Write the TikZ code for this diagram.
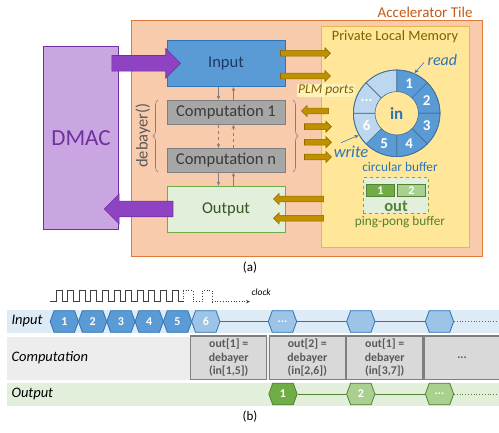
\documentclass[tikz,border=0pt]{standalone}
\usepackage{fontspec}
\setmainfont{Carlito}
\usetikzlibrary{arrows.meta,shapes.arrows,shapes.symbols,decorations.pathreplacing}

\definecolor{tilefill}{HTML}{F8CBAD}
\definecolor{tileline}{HTML}{E07B39}
\definecolor{tiletext}{HTML}{C55A11}
\definecolor{dmacfill}{HTML}{C9A6E2}
\definecolor{dmacline}{HTML}{7030A0}
\definecolor{dmacarrow}{HTML}{8E44C2}
\definecolor{infill}{HTML}{5B9BD5}
\definecolor{inline}{HTML}{2E75B6}
\definecolor{intext}{HTML}{1F3864}
\definecolor{inlight}{HTML}{9DC3E6}
\definecolor{ringlight}{HTML}{BDD7EE}
\definecolor{ringline}{HTML}{41719C}
\definecolor{compfill}{HTML}{A6A6A6}
\definecolor{compline}{HTML}{7F7F7F}
\definecolor{comptext}{HTML}{3A3A3A}
\definecolor{outfill}{HTML}{E2EFDA}
\definecolor{outline}{HTML}{70AD47}
\definecolor{outdark}{HTML}{548235}
\definecolor{outtext}{HTML}{375623}
\definecolor{outlight}{HTML}{A9D08E}
\definecolor{plmfill}{HTML}{FFE699}
\definecolor{plmline}{HTML}{EBB44D}
\definecolor{plmtext}{HTML}{7F6000}
\definecolor{portfill}{HTML}{BF9000}
\definecolor{portline}{HTML}{8C6A00}
\definecolor{portbg}{HTML}{FFF2B8}
\definecolor{inband}{HTML}{DDEBF7}
\definecolor{compband}{HTML}{EDEDED}
\definecolor{compbox}{HTML}{D9D9D9}
\definecolor{compboxtext}{HTML}{595959}

\newcommand{\ringdots}{...}

\tikzset{
  fs/.style={font=\fontsize{#1}{#1}\selectfont},
  block/.style={draw, line width=0.8pt, minimum width=118pt, inner sep=0pt},
  port/.style={single arrow, draw=portline, fill=portfill, line width=0.6pt,
    inner sep=2.6pt, single arrow head extend=2.6pt, single arrow tip angle=90},
  dmacport/.style={single arrow, draw=dmacline, fill=dmacarrow, line width=0.6pt,
    inner sep=7.5pt, single arrow head extend=7pt, single arrow tip angle=90,
    minimum height=68.7pt},
  flow/.style={draw=compline, line width=0.7pt, -{Stealth[length=4pt,width=3.5pt]}},
  ringarrow/.style={draw=inline, line width=0.6pt, -{Stealth[length=4pt,width=3.5pt]}},
  hexbox/.style={signal, signal to=east and west, signal pointer angle=140,
    minimum width=28.3pt, minimum height=21.6pt, inner sep=0pt, line width=0.8pt,
    text=white, font=\fontsize{12}{12}\selectfont\bfseries},
  inhex/.style={hexbox, draw=inline, fill=infill},
  inhexlight/.style={hexbox, draw=inline, fill=inlight},
  outhex/.style={hexbox, draw=outdark, fill=outline},
  outhexlight/.style={hexbox, draw=outdark, fill=outlight},
  calcbox/.style={draw=compline, fill=compbox, line width=1.2pt, minimum width=76pt,
    minimum height=43.3pt, inner sep=0pt, align=center, text=compboxtext,
    font=\fontsize{11.8}{13.3}\selectfont\bfseries},
  rowlabel/.style={anchor=west, font=\fontsize{14.5}{14.5}\selectfont\itshape}
}

\begin{document}
\begin{tikzpicture}[x=1pt,y=-1pt]
\useasboundingbox (0,0) rectangle (499,433);

% (a) accelerator tile
\node[draw=tileline, fill=tilefill, line width=0.9pt, minimum width=350.3pt, minimum height=235.3pt] (tile) at (306.85,138.35) {};
\node[anchor=east, text=tiletext, fs=15] (tilelbl) at (476,12) {Accelerator Tile};
\node[draw=dmacline, fill=dmacfill, line width=0.9pt, minimum width=75.4pt, minimum height=183pt, text=dmacline, fs=23] (dmac) at (81,137.8) {DMAC};

\node[draw=plmline, fill=plmfill, line width=0.9pt, minimum width=148.3pt, minimum height=221.3pt] (plm) at (395.2,136.7) {};
\node[text=plmtext, fs=14.3] (plmlbl) at (395,37) {Private Local Memory};

\node[block, draw=inline, fill=infill, minimum height=46.4pt, text=intext, fs=16.5] (input) at (226,63.5) {Input};
\node[block, draw=compline, fill=compfill, minimum height=24.3pt, text=comptext, fs=16.5] (comp1) at (226,112.2) {Computation 1};
\node[block, draw=compline, fill=compfill, minimum height=24pt, text=comptext, fs=16.5] (compn) at (226,160.3) {Computation n};
\node[block, draw=outline, fill=outfill, minimum height=46.3pt, text=outtext, fs=16.5] (output) at (226,209.2) {Output};

\draw[flow] ([xshift=-7.5pt]input.south) -- ([xshift=-7.5pt]comp1.north);
\draw[flow] ([xshift=7.5pt]comp1.north) -- ([xshift=7.5pt]input.south);
\draw[flow, dashed] ([xshift=-7.5pt]comp1.south) -- ([xshift=-7.5pt]compn.north);
\draw[flow, dashed] ([xshift=7.5pt]compn.north) -- ([xshift=7.5pt]comp1.south);
\draw[flow] ([xshift=-7.5pt]compn.south) -- ([xshift=-7.5pt]output.north);
\draw[flow] ([xshift=7.5pt]output.north) -- ([xshift=7.5pt]compn.south);

\draw[draw=compline, line width=0.6pt, decorate, decoration={brace, amplitude=5pt}] (158,172) -- (158,100);
\draw[draw=compline, line width=0.6pt, decorate, decoration={brace, amplitude=5pt}] (293,100) -- (293,172);
\node[rotate=90, text=compboxtext, fs=16.5] (debayer) at (143,135.5) {debayer()};

% DMAC links
\node[dmacport] (dmacin) at (142.3,63.3) {};
\node[dmacport, shape border rotate=180] (dmacout) at (142.5,209) {};

% PLM ports
\node[port, minimum height=50pt] (pin1) at (304,53.3) {};
\node[port, minimum height=50pt] (pin2) at (304,76) {};
\node[port, minimum height=27pt, shape border rotate=180] (pc1) at (316.5,111) {};
\node[port, minimum height=27pt] (pc2) at (316.5,126.7) {};
\node[port, minimum height=27pt] (pc3) at (316.5,142.3) {};
\node[port, minimum height=27pt] (pc4) at (316.5,157) {};
\node[port, minimum height=50pt, shape border rotate=180] (pout1) at (300,199) {};
\node[port, minimum height=50pt, shape border rotate=180] (pout2) at (300,218.3) {};
\node[fill=portbg, inner sep=1.5pt, text=plmtext, font=\fontsize{13.5}{13.5}\selectfont\itshape] (portlbl) at (326,90.5) {PLM ports};

% circular buffer
\begin{scope}[shift={(396.7,113.3)}, yscale=-1]
\foreach \a/\col/\lab in {90/infill/1, 45/infill/2, 0/infill/3, -45/infill/4, -90/infill/5, -135/ringlight/6, 180/ringlight/\ringdots, 135/ringlight/{}} {
  \filldraw[fill=\col, draw=ringline, line width=0.6pt] (\a:43.3) arc[start angle=\a, end angle=\a-45, radius=43.3] -- (\a-45:21.7) arc[start angle=\a-45, end angle=\a, radius=21.7] -- cycle;
  \node[text=white, font=\fontsize{15}{15}\selectfont\bfseries] at (\a-22.5:32.5) {\lab};
}
\draw[ringline, line width=0.8pt] (0,0) circle[radius=43.3];
\coordinate (ringread) at (66:44);
\coordinate (ringwrite) at (-150:44);
\end{scope}
\node[text=inline, font=\fontsize{17}{17}\selectfont\bfseries] (ringin) at (396.7,113.3) {in};
\node[anchor=west, text=inline, font=\fontsize{16}{16}\selectfont\itshape] (readlbl) at (424,60.5) {read};
\node[text=inline, font=\fontsize{16.5}{16.5}\selectfont\itshape] (writelbl) at (351,152) {write};
\draw[ringarrow] ([yshift=-2pt]readlbl.west) -- (ringread);
\draw[ringarrow] ([xshift=-10pt]writelbl.north) -- (ringwrite);
\node[text=inline, fs=13.3] (circlbl) at (400,166.7) {circular buffer};

% ping-pong buffer
\node[draw=outline, dashed, fill=outfill, line width=0.6pt, minimum width=65pt, minimum height=35.6pt] (pingbox) at (395.8,195.5) {};
\node[draw=outdark, fill=outline, line width=0.6pt, minimum width=27.6pt, minimum height=12.7pt, inner sep=0pt, text=white, font=\fontsize{12}{12}\selectfont\bfseries] (ping1) at (380.5,190.3) {1};
\node[draw=outdark, fill=outlight, line width=0.6pt, minimum width=28pt, minimum height=12.7pt, inner sep=0pt, text=white, font=\fontsize{12}{12}\selectfont\bfseries] (ping2) at (411.3,190.3) {2};
\node[text=outdark, font=\fontsize{16.5}{16.5}\selectfont\bfseries] (outlbl) at (396,206) {out};
\node[text=outdark, fs=13.3] (pinglbl) at (400,222) {ping-pong buffer};

\node[fs=13] (capa) at (250,268) {(a)};

% (b) timing
\fill[inband] (7.3,310) rectangle (499,332.7);
\fill[compband] (7.3,336.7) rectangle (499,380);
\fill[outfill] (7.3,383.3) rectangle (499,406);
\node[rowlabel] (rowin) at (8,321.5) {Input};
\node[rowlabel] (rowcomp) at (8,358) {Computation};
\node[rowlabel] (rowout) at (8,394) {Output};

% clock
\draw[black!75, line width=0.7pt] (50,301.7) -- (56,301.7)
  foreach \i in {0,...,10} { -- ++(0,-11) -- ++(6,0) -- ++(0,11) -- ++(5.6,0) };
\draw[black!75, line width=0.7pt, dotted] (177.6,301.7) -- (183,301.7) -- ++(0,-11) -- ++(10,0) -- ++(0,11) -- ++(9,0) -- ++(0,-11) -- ++(10,0) -- ++(0,11) -- (212,301.7);
\coordinate (clockend) at (250,301.7);
\draw[black!75, line width=0.7pt, dotted, -{Stealth[length=4pt,width=3.5pt]}] (212,301.7) -- (clockend);
\node[anchor=west, font=\fontsize{9.5}{9.5}\selectfont\itshape] (clocklbl) at (248,292.5) {clock};

% input row
\foreach \n/\x in {1/64.3, 2/92.6, 3/120.9, 4/149.2, 5/177.5}
  \node[inhex] (h\n) at (\x,321.5) {\n};
\node[inhexlight] (h6) at (205.8,321.5) {6};
\node[inhexlight] (h7) at (282.5,321.5) {\ringdots};
\node[inhexlight] (h8) at (360.8,321.5) {};
\node[inhexlight] (h9) at (439.5,321.5) {};
\coordinate (inend) at (499,321.5);
\draw[inline, line width=0.8pt] (h6.east) -- (h7.west);
\draw[inline, line width=0.8pt] (h7.east) -- (h8.west);
\draw[inline, line width=0.8pt] (h8.east) -- (h9.west);
\draw[inline, line width=0.8pt, dotted] (h9.east) -- (inend);

% computation row
\node[calcbox] (c1) at (228.7,357.7) {out[1] =\\debayer\\(in[1,5])};
\node[calcbox] (c2) at (307.3,357.7) {out[2] =\\debayer\\(in[2,6])};
\node[calcbox] (c3) at (384.7,357.7) {out[1] =\\debayer\\(in[3,7])};
\node[calcbox] (c4) at (462,357.7) {\ringdots};

% output row
\node[outhex] (o1) at (283,394) {1};
\node[outhexlight] (o2) at (360.8,394) {2};
\node[outhexlight] (o3) at (439.5,394) {\ringdots};
\coordinate (outend) at (499,394);
\draw[outdark, line width=0.8pt] (o1.east) -- (o2.west);
\draw[outdark, line width=0.8pt] (o2.east) -- (o3.west);
\draw[outdark, line width=0.8pt, dotted] (o3.east) -- (outend);

\node[fs=13] (capb) at (250,417) {(b)};
\end{tikzpicture}
\end{document}
